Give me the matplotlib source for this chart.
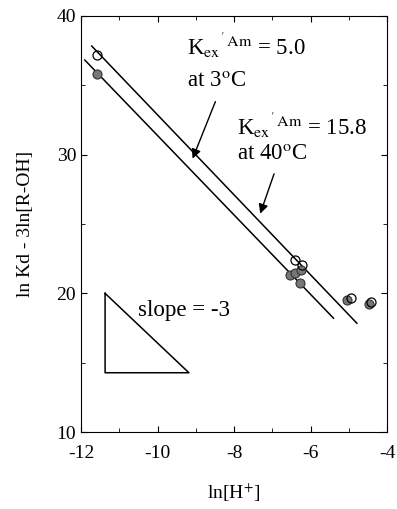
import numpy as np
import matplotlib
matplotlib.use("Agg")
import matplotlib.pyplot as plt

plt.rcParams['font.family'] = ['Liberation Serif', 'DejaVu Serif']
plt.rcParams['mathtext.fontset'] = 'stix'
plt.rcParams['axes.unicode_minus'] = False

# data
x_open = [-11.59, -6.41, -6.23, -4.95, -4.42]
y_open = [37.2, 22.4, 22.06, 19.68, 19.38]
x_filled = [-11.59, -6.54, -6.40, -6.25, -6.27, -5.05, -4.48]
y_filled = [35.8, 21.34, 21.5, 21.7, 20.74, 19.5, 19.2]

# fitted lines (3 C upper, 40 C lower)
line_3C_x = [-11.72, -4.79]
line_3C_y = [37.82, 17.85]
line_40C_x = [-11.9, -5.40]
line_40C_y = [36.81, 18.21]

# slope triangle
tri_x = [-11.37, -11.37, -9.18, -11.37]
tri_y = [20.0, 14.28, 14.28, 20.0]

fig = plt.figure(figsize=(3.97, 5.09), dpi=100)
ax = fig.add_axes([0.204, 0.151, 0.771, 0.818])

ax.plot(line_3C_x, line_3C_y, color='black', lw=1.1)
ax.plot(line_40C_x, line_40C_y, color='black', lw=1.1)
ax.plot(x_filled, y_filled, 'o', ms=6.5, mfc='#777777', mec='#333333', mew=0.8)
ax.plot(x_open, y_open, 'o', ms=6.5, mfc='none', mec='black', mew=0.9)
ax.plot(tri_x, tri_y, color='black', lw=1.1)

fs = 16.5
ax.text(-10.5, 18.8, "slope = -3", fontsize=fs, va='center')
ax.text(-9.24, 37.9, r"K$_{\mathrm{ex}}$$^{\mathrm{'\,Am}}$ = 5.0", fontsize=fs, va='center')
ax.text(-9.24, 35.3, r"at 3$^{\mathrm{o}}$C", fontsize=fs, va='center')
ax.text(-7.93, 32.17, r"K$_{\mathrm{ex}}$$^{\mathrm{'\,Am}}$ = 15.8", fontsize=fs, va='center')
ax.text(-7.93, 30.0, r"at 40$^{\mathrm{o}}$C", fontsize=fs, va='center')

ax.annotate("", xy=(-9.11, 29.52), xytext=(-8.46, 34.0),
            arrowprops=dict(arrowstyle='-|>', color='black', lw=1.0, mutation_scale=14))
ax.annotate("", xy=(-7.34, 25.55), xytext=(-6.93, 28.8),
            arrowprops=dict(arrowstyle='-|>', color='black', lw=1.0, mutation_scale=14))

ax.set_xlim(-12, -4)
ax.set_ylim(10, 40)
ax.set_xticks([-12, -10, -8, -6, -4])
ax.set_xticks(np.arange(-11, -4, 2), minor=True)
ax.set_yticks([10, 20, 30, 40])
ax.set_yticks([15, 25, 35], minor=True)
ax.tick_params(which='both', direction='in', top=True, right=True, labelsize=14)
ax.tick_params(which='major', length=4)
ax.tick_params(which='minor', length=3)
ax.tick_params(axis='x', pad=9)

ax.set_xlabel("ln[H$^{+}$]", fontsize=14, labelpad=14)
ax.set_ylabel("ln Kd - 3ln[R-OH]", fontsize=14, labelpad=16)

fig.savefig("out.png", dpi=100)
